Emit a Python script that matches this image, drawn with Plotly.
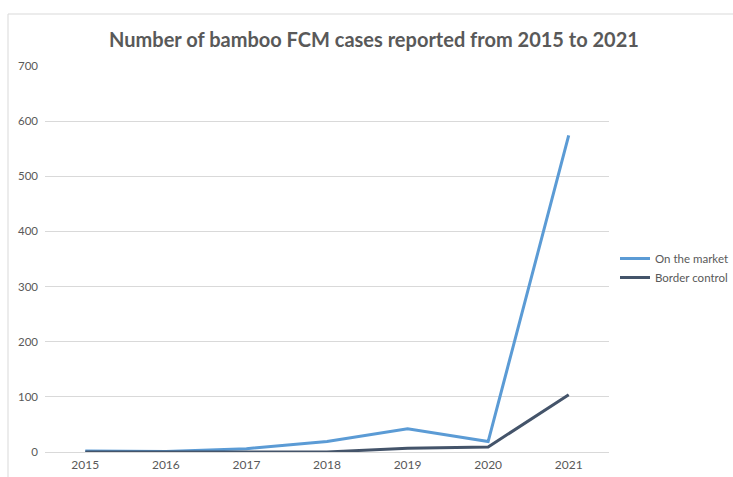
import plotly.graph_objects as go

years = ["2015", "2016", "2017", "2018", "2019", "2020", "2021"]
on_the_market = [2, 1, 6, 19, 42, 19, 574]
border_control = [0, 0, 1, 0, 7, 9, 104]

W, H = 733, 477
L, R, T, B = 45, 124, 66, 25
plot_w = W - L - R
plot_h = H - T - B

def px_x(px):
    return (px - L) / plot_w

def px_y(py):
    return (H - B - py) / plot_h

fig = go.Figure()
fig.add_trace(go.Scatter(
    x=years, y=on_the_market, name="On the market", mode="lines",
    line=dict(color="#5b9bd5", width=3),
))
fig.add_trace(go.Scatter(
    x=years, y=border_control, name="Border control", mode="lines",
    line=dict(color="#44546a", width=3),
))

# outer chart frame (top and left edges)
frame = dict(color="#d9d9d9", width=1)
fig.add_shape(type="line", xref="paper", yref="paper",
              x0=px_x(8), x1=px_x(W + 5), y0=px_y(14), y1=px_y(14), line=frame)
fig.add_shape(type="line", xref="paper", yref="paper",
              x0=px_x(8), x1=px_x(8), y0=px_y(14), y1=px_y(H + 5), line=frame)

fig.update_layout(
    width=W, height=H,
    margin=dict(l=L, r=R, t=T, b=B, autoexpand=False),
    paper_bgcolor="white", plot_bgcolor="white",
    font=dict(family="Lato, Open Sans, sans-serif", color="#595959", size=11),
    title=dict(
        text="<b>Number of bamboo FCM cases reported from 2015 to 2021</b>",
        x=374 / W, xref="container", xanchor="center",
        y=1 - 40 / H, yanchor="middle",
        font=dict(size=20, color="#595959", family="Lato, Open Sans, sans-serif"),
    ),
    xaxis=dict(
        type="category", range=[-0.5, 6.5],
        showgrid=False, showline=False, zeroline=False,
        ticks="", tickfont=dict(size=12, color="#595959"),
        ticklabelstandoff=4,
    ),
    yaxis=dict(
        range=[0, 700], dtick=100, showgrid=True, gridcolor="#d9d9d9", gridwidth=1,
        zeroline=True, zerolinecolor="#d9d9d9", zerolinewidth=1,
        showline=False, ticks="", tickfont=dict(size=11.5, color="#595959"),
        ticklabelstandoff=6,
    ),
    legend=dict(
        x=px_x(615), y=px_y(268), xanchor="left", yanchor="middle",
        bgcolor="rgba(0,0,0,0)", font=dict(size=11.5, color="#595959"),
        itemwidth=30, tracegroupgap=0,
    ),
    showlegend=True,
)

fig.write_html("out.html")
